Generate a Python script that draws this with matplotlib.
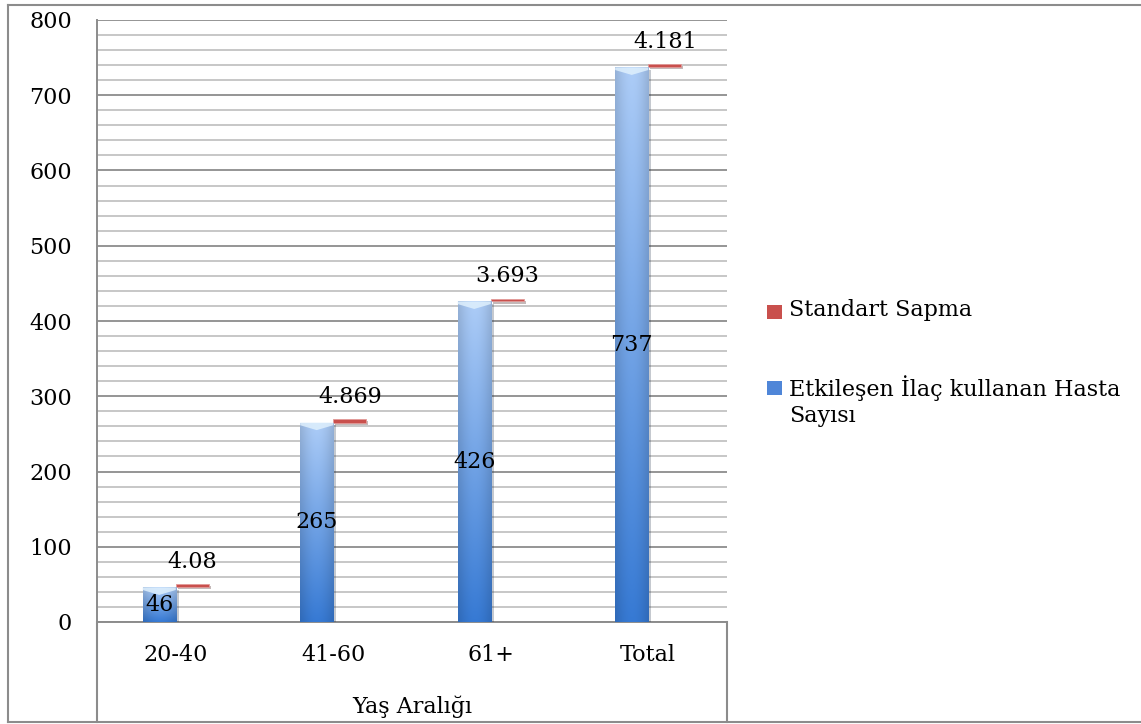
import numpy as np
import matplotlib.pyplot as plt
from matplotlib.lines import Line2D
from matplotlib.patches import Polygon, Rectangle
import matplotlib.patheffects as pe

# data
kategoriler = ['20-40', '41-60', '61+', 'Total']
hasta_sayisi = [46, 265, 426, 737]
std_sapma = [4.08, 4.869, 3.693, 4.181]
std_etiket = ['4.08', '4.869', '3.693', '4.181']
seri_adlari = ['Standart Sapma', 'Etkileşen İlaç kullanan Hasta\nSayısı']

plt.rcParams['font.family'] = ['DejaVu Serif']
plt.rcParams['font.size'] = 16

W, H = 1141, 724
fig = plt.figure(figsize=(W / 100, H / 100), dpi=100)
ax = fig.add_axes([97 / W, (H - 622) / H, 630 / W, 602 / H])

x = np.arange(len(kategoriler))
bw = 0.21
mavi = ax.bar(x - bw / 2, hasta_sayisi, width=bw, color='#5b8fdc', zorder=3)
kirmizi = ax.bar(x + bw / 2, std_sapma, width=bw, bottom=hasta_sayisi,
                 color='#c9504d', edgecolor='#e29a98', linewidth=0.6, zorder=3)

# gradient fill for the blue bars (light top, dark bottom, darker sides)
ust = np.array([172, 204, 247]) / 255
alt = np.array([55, 122, 212]) / 255
for b in mavi:
    x0, w, h = b.get_x(), b.get_width(), b.get_height()
    t = np.linspace(0, 1, 60)[:, None]  # 0 = top
    s = np.linspace(0, 1, 40)[None, :]
    col = ust[None, None, :] * (1 - t[..., None]) + alt[None, None, :] * t[..., None]
    shade = 0.87 + 0.13 * np.sin(np.pi * s)
    img = np.clip(col * shade[..., None], 0, 1)
    im = ax.imshow(img, extent=[x0, x0 + w, 0, h], aspect='auto', zorder=3.1,
                   interpolation='bilinear')
    im.set_clip_path(b)
    b.set_path_effects([pe.SimplePatchShadow(offset=(2, -2), alpha=0.25), pe.Normal()])
    d = 10
    ax.add_patch(Polygon([[x0, h], [x0 + w, h], [x0 + w, h - d * 0.35],
                          [x0 + w / 2, h - d], [x0, h - d * 0.35]],
                         closed=True, facecolor='#dff0fd', alpha=0.85,
                         edgecolor='none', zorder=3.2))

for b in kirmizi:
    b.set_path_effects([pe.SimplePatchShadow(offset=(1.5, -1.5), alpha=0.3), pe.Normal()])

# value labels
for xi, v in zip(x, hasta_sayisi):
    ax.text(xi - bw / 2, v / 2, str(v), ha='center', va='center', zorder=5)
for xi, v, s, lab in zip(x, hasta_sayisi, std_sapma, std_etiket):
    ax.annotate(lab, (xi + bw / 2, v + s), xytext=(0, 16), textcoords='offset points',
                ha='center', va='center', zorder=5)

ax.set_xlim(-0.5, len(kategoriler) - 0.5)
ax.set_ylim(0, 800)
ax.set_yticks(np.arange(0, 801, 100))
ax.set_yticks(np.arange(0, 801, 20), minor=True)
ax.set_xticks(x)
ax.set_xticklabels(kategoriler)
ax.grid(axis='y', which='minor', color='#bdbdbd', linewidth=1.2, zorder=0)
ax.grid(axis='y', which='major', color='#8c8c8c', linewidth=1.3, zorder=0)
ax.set_axisbelow(True)
ax.tick_params(axis='y', which='both', length=0, pad=18)
ax.tick_params(axis='x', length=0, pad=16)
for k in ['top', 'right']:
    ax.spines[k].set_visible(False)
for k in ['left', 'bottom']:
    ax.spines[k].set_color('#8c8c8c')
    ax.spines[k].set_linewidth(1.4)
ax.set_xlabel('Yaş Aralığı', va='center')
ax.xaxis.set_label_coords(0.5, -85 / 602)

# frame lines of the chart area
def fline(xs, ys):
    fig.add_artist(Line2D([v / W for v in xs], [1 - v / H for v in ys],
                          color='#8c8c8c', linewidth=1.5))

fline([8, W], [5, 5])
fline([8, W], [722, 722])
fline([8, 8], [5, 722])
fline([97, 97], [622, 722])
fline([727, 727], [622, 722])

# legend
renkler = ['#c9504d', '#4f86d8']
ys = [312, 388]
for ad, r, yy in zip(seri_adlari, renkler, ys):
    fig.add_artist(Rectangle((767 / W, 1 - (yy + 7) / H), 15 / W, 14 / H,
                             facecolor=r, edgecolor='none'))
    fig.text(789 / W, 1 - (yy - 13) / H, ad, ha='left', va='top', linespacing=1.25)

fig.savefig('out.png', dpi=100)
